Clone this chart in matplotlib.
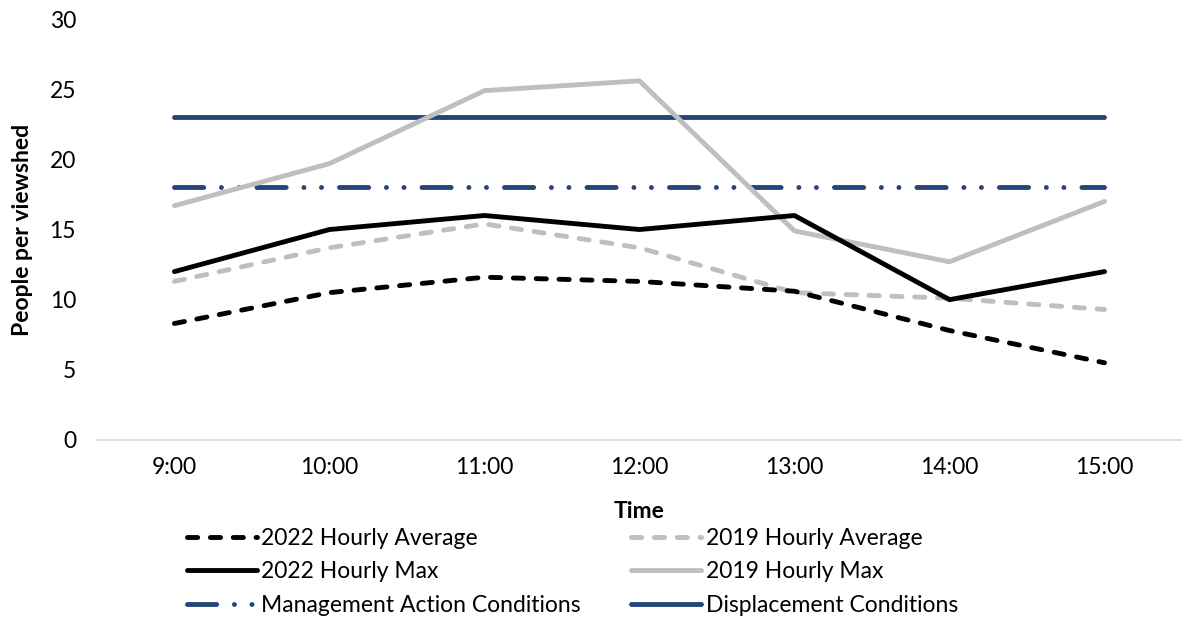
import matplotlib
matplotlib.use("Agg")
import matplotlib.pyplot as plt

plt.rcParams['font.family'] = ['Lato', 'DejaVu Sans']

hours = ["9:00", "10:00", "11:00", "12:00", "13:00", "14:00", "15:00"]
avg_2022 = [8.3, 10.5, 11.6, 11.3, 10.6, 7.8, 5.5]
avg_2019 = [11.3, 13.7, 15.4, 13.7, 10.5, 10.1, 9.3]
max_2022 = [12, 15, 16, 15, 16, 10, 12]
max_2019 = [16.7, 19.7, 24.9, 25.6, 14.9, 12.7, 17.0]
management_action = 18
displacement = 23

NAVY = "#264478"
GRAY = "#BFBFBF"
FS = 16.5
LW = 3.5

fig = plt.figure(figsize=(11.82, 6.17), dpi=100)
ax = fig.add_axes([0.082, 0.287, 0.918, 0.682])

x = [i + 0.5 for i in range(len(hours))]

dash_avg = (2.1, 2.6)
dash_mgmt = (6.0, 3.65, 0.01, 3.6, 0.01, 3.7)

l_mgmt, = ax.plot(x, [management_action] * len(x), color=NAVY, lw=LW,
                  dashes=dash_mgmt, dash_capstyle='round', solid_capstyle='round')
l_disp, = ax.plot(x, [displacement] * len(x), color=NAVY, lw=LW,
                  solid_capstyle='round')
l_max19, = ax.plot(x, max_2019, color=GRAY, lw=LW, solid_capstyle='round',
                   solid_joinstyle='round')
l_avg19, = ax.plot(x, avg_2019, color=GRAY, lw=LW, dashes=dash_avg,
                   dash_capstyle='round', dash_joinstyle='round')
l_max22, = ax.plot(x, max_2022, color='black', lw=LW, solid_capstyle='round',
                   solid_joinstyle='round')
l_avg22, = ax.plot(x, avg_2022, color='black', lw=LW, dashes=dash_avg,
                   dash_capstyle='round', dash_joinstyle='round')

ax.set_xlim(0, len(hours))
ax.set_ylim(0, 30)
ax.set_yticks(range(0, 31, 5))
ax.set_xticks(x)
ax.set_xticklabels(hours)
ax.tick_params(axis='both', length=0, labelsize=FS, colors='black')
ax.tick_params(axis='y', pad=15)
ax.tick_params(axis='x', pad=12)
for side in ('top', 'right', 'left'):
    ax.spines[side].set_visible(False)
ax.spines['bottom'].set_color('#D9D9D9')
ax.spines['bottom'].set_linewidth(1.2)

ax.set_ylabel("People per viewshed", fontsize=FS, fontweight='bold', labelpad=12)
ax.set_xlabel("Time", fontsize=FS, fontweight='bold', labelpad=17)


def legend_column(handles, labels, xpos):
    return fig.legend(handles, labels, loc='upper left', bbox_to_anchor=(xpos, 0.145),
                      frameon=False, fontsize=FS, handlelength=3.05, handletextpad=0.2,
                      labelspacing=0.56, borderaxespad=0, borderpad=0)


legend_column([l_avg22, l_max22, l_mgmt],
              ["2022 Hourly Average", "2022 Hourly Max", "Management Action Conditions"],
              0.158)
legend_column([l_avg19, l_max19, l_disp],
              ["2019 Hourly Average", "2019 Hourly Max", "Displacement Conditions"],
              0.534)

fig.savefig("out.png", dpi=100)
